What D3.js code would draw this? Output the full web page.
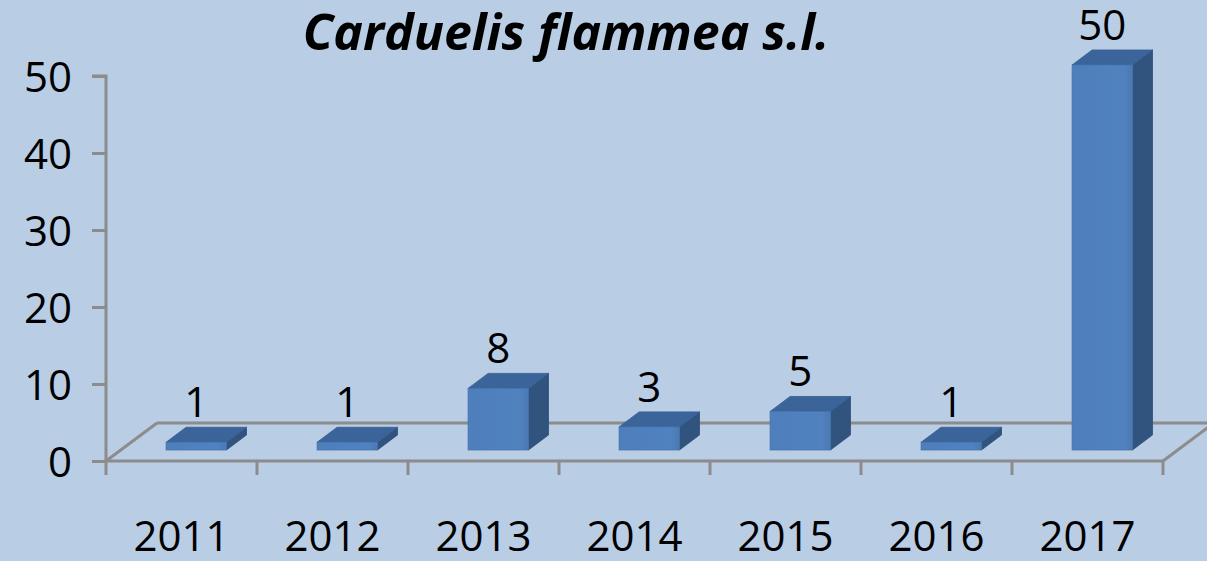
<!DOCTYPE html>
<html>
<head>
<meta charset="utf-8">
<script src="https://cdn.jsdelivr.net/npm/d3@7"></script>
<style>
  html, body { margin: 0; padding: 0; background: #B9CDE5; }
  svg { display: block; }
</style>
</head>
<body>
<script>
const title = "Carduelis flammea s.l.";
const categories = ["2011", "2012", "2013", "2014", "2015", "2016", "2017"];
const values = [1, 1, 8, 3, 5, 1, 50];
const yTicks = [0, 10, 20, 30, 40, 50];

const W = 1207, H = 561;
const svg = d3.select("body").append("svg").attr("width", W).attr("height", H);
svg.append("rect").attr("width", W).attr("height", H).attr("fill", "#B9CDE5");

const font = "'Open Sans', 'Noto Sans', sans-serif";
const x0 = 106, x1 = 1163, yBase = 461, yTop = 76;
const floorDX = 51, floorDY = -38;       // depth of floor
const barFrac = 0.29;                    // front face of bar inside floor depth
const barDX = 20, barDY = -15;           // bar depth

const x = d3.scaleBand().domain(categories).range([x0, x1]).paddingInner(0.6).paddingOuter(0.3);
const y = d3.scaleLinear().domain([0, 50]).range([yBase, yTop]);

const grid = "#8C8C8C";

// floor
const g = svg.append("g");
g.append("line").attr("x1", x0 + floorDX).attr("y1", yBase + floorDY).attr("x2", W + 10).attr("y2", yBase + floorDY)
  .attr("stroke", grid).attr("stroke-width", 3);
g.append("line").attr("x1", x0).attr("y1", yBase).attr("x2", x0 + floorDX).attr("y2", yBase + floorDY)
  .attr("stroke", grid).attr("stroke-width", 3);
g.append("line").attr("x1", x1).attr("y1", yBase).attr("x2", x1 + floorDX).attr("y2", yBase + floorDY)
  .attr("stroke", grid).attr("stroke-width", 3);

// y axis
const yAxis = d3.axisLeft(y).tickValues(yTicks).tickSize(14).tickPadding(20);
const ya = svg.append("g").attr("transform", `translate(${x0},0)`).call(yAxis);
ya.select(".domain").attr("stroke", grid).attr("stroke-width", 3).attr("d", `M-14,${yTop}H0V${yBase}`);
ya.selectAll(".tick line").attr("stroke", grid).attr("stroke-width", 3);
ya.selectAll(".tick text").attr("font-family", font).attr("font-size", 42).attr("fill", "#000").attr("dy", "0.36em");

// x axis (front floor edge)
const step = x.step();
const xa = svg.append("g");
xa.append("line").attr("x1", x0).attr("y1", yBase).attr("x2", x1).attr("y2", yBase).attr("stroke", grid).attr("stroke-width", 3);
xa.selectAll(".xt").data(d3.range(categories.length + 1)).join("line")
  .attr("x1", i => x0 + i * step).attr("x2", i => x0 + i * step)
  .attr("y1", yBase).attr("y2", yBase + 14).attr("stroke", grid).attr("stroke-width", 3);
xa.selectAll(".xl").data(categories).join("text")
  .attr("x", d => x(d) + x.bandwidth() / 2)
  .attr("y", 551).attr("text-anchor", "middle")
  .attr("font-family", font).attr("font-size", 42).attr("fill", "#000").text(d => d);

// bars
const defs = svg.append("defs");
const grad = defs.append("linearGradient").attr("id", "front").attr("x1", "0").attr("x2", "1").attr("y1", "0").attr("y2", "0");
grad.append("stop").attr("offset", "0").attr("stop-color", "#4E7FBC");
grad.append("stop").attr("offset", "0.85").attr("stop-color", "#5182C0");
grad.append("stop").attr("offset", "1").attr("stop-color", "#4A79B3");

const offX = barFrac * floorDX, offY = barFrac * floorDY;
const bars = svg.append("g").selectAll("g").data(categories.map((c, i) => ({c, v: values[i]}))).join("g");
bars.each(function(d) {
  const gb = d3.select(this);
  const xl = x(d.c) + offX, xr = xl + x.bandwidth();
  const yb = y(0) + offY, yt = y(d.v) + offY;
  // side
  gb.append("path").attr("d", `M${xr},${yb}L${xr + barDX},${yb + barDY}L${xr + barDX},${yt + barDY}L${xr},${yt}Z`)
    .attr("fill", "#31547F").attr("stroke", "#2E4E77").attr("stroke-width", 0.8);
  // top
  gb.append("path").attr("d", `M${xl},${yt}L${xl + barDX},${yt + barDY}L${xr + barDX},${yt + barDY}L${xr},${yt}Z`)
    .attr("fill", "#3B659A").attr("stroke", "#365E90").attr("stroke-width", 0.8);
  // front
  gb.append("rect").attr("x", xl).attr("y", yt).attr("width", xr - xl).attr("height", yb - yt)
    .attr("fill", "url(#front)").attr("stroke", "#4573AC").attr("stroke-width", 0.8);
  // label
  gb.append("text").attr("x", (xl + xr) / 2).attr("y", yt - 25).attr("text-anchor", "middle")
    .attr("font-family", font).attr("font-size", 42).attr("fill", "#000").text(d.v);
});

// title
svg.append("text").attr("x", 566).attr("y", 50).attr("text-anchor", "middle")
  .attr("font-family", font).attr("font-size", 50).attr("font-weight", "bold").attr("font-style", "italic")
  .attr("fill", "#000").text(title);
</script>
</body>
</html>
